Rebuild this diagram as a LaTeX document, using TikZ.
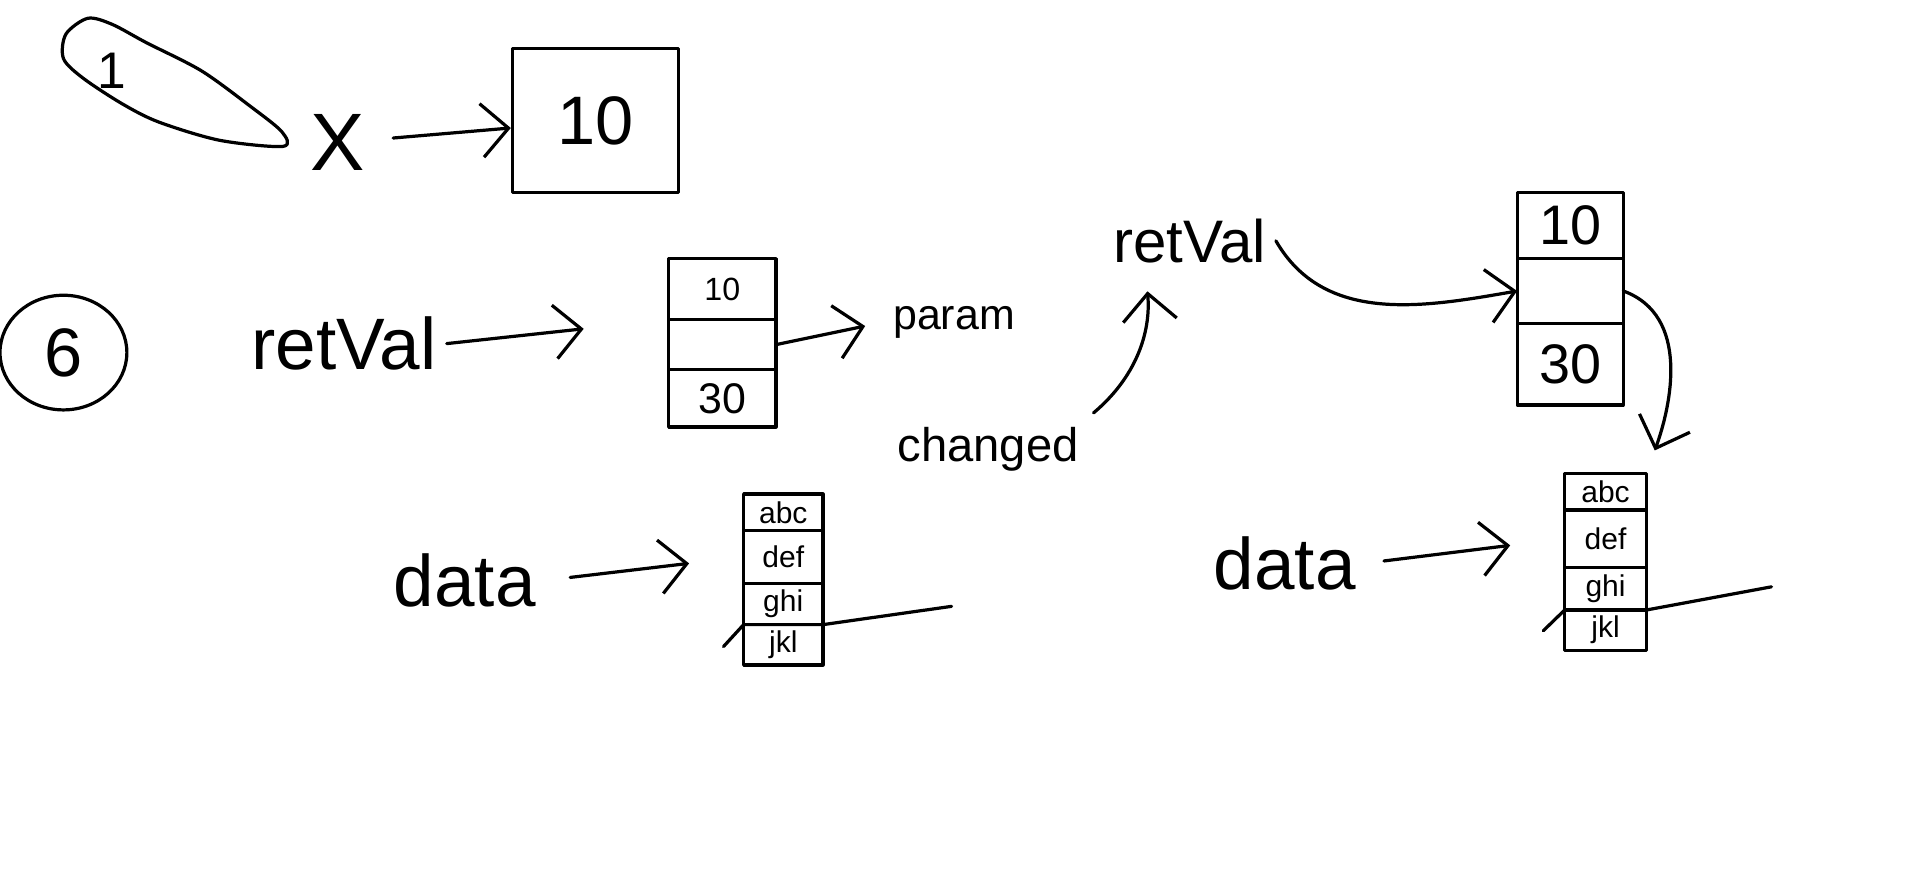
\documentclass[tikz,border=0pt]{standalone}
\usepackage{fontspec}
\setmainfont{Liberation Sans}
\usepackage{tikz}
\usetikzlibrary{shapes,positioning,arrows.meta}
\tikzset{cell/.style={draw,inner sep=0pt,outer sep=0pt,anchor=north}}
\tikzset{word/.style={anchor=base,inner sep=2pt}}
\tikzset{small/.style={font=\fontsize{7}{8}\selectfont}}

\begin{document}
\begin{tikzpicture}[x=0.1mm,y=0.1mm,line width=0.75pt,line cap=round,line join=round,>={Straight Barb[length=2.2mm,width=4.4mm]}]
    \useasboundingbox (0,0) rectangle (1568,-725);

    \draw plot[smooth cycle] coordinates {(72,-15) (54,-28) (52,-48) (68,-64) (100,-85) (130,-100) (180,-115) (232,-120) (231,-108) (205,-87) (165,-58) (120,-35) (92,-20)};
    \node[font=\fontsize{12}{14}\selectfont] (one) at (92,-58) {1};
    \node[font=\fontsize{19}{22}\selectfont] (x) at (277,-117) {X};
    \node[draw,minimum width=13.6mm,minimum height=11.8mm,font=\fontsize{16}{18}\selectfont] (ten) at (488,-99) {10};

    \node[ellipse,draw,minimum width=10.4mm,minimum height=9.4mm,font=\fontsize{16}{18}\selectfont] (six) at (52,-289) {6};
    \node[word,font=\fontsize{17}{20}\selectfont] (rv1) at (282,-303) {retVal};
    \node[cell,minimum width=8.8mm,minimum height=5mm,font=\fontsize{7.5}{9}\selectfont] (b1a) at (592,-212) {10};
    \node[cell,minimum width=8.8mm,minimum height=4.1mm,below=0pt of b1a] (b1b) {};
    \node[cell,minimum width=8.8mm,minimum height=4.7mm,below=0pt of b1b,font=\fontsize{10}{12}\selectfont] (b1c) {30};
    \node[word,font=\fontsize{10}{12}\selectfont] (param) at (782,-270) {param};
    \node[word,font=\fontsize{11}{13}\selectfont] (chg) at (810,-378) {changed};

    \node[word,font=\fontsize{14}{16}\selectfont] (rv2) at (975,-215) {retVal};
    \node[cell,minimum width=8.7mm,minimum height=5.4mm,font=\fontsize{13}{15}\selectfont] (b2a) at (1287,-158) {10};
    \node[cell,minimum width=8.7mm,minimum height=5.3mm,below=0pt of b2a] (b2b) {};
    \node[cell,minimum width=8.7mm,minimum height=6.7mm,below=0pt of b2b,font=\fontsize{13}{15}\selectfont] (b2c) {30};

    \node[word,font=\fontsize{17}{20}\selectfont] (dataA) at (381,-497) {data};
    \node[cell,small,minimum width=6.5mm,minimum height=3mm] (dA1) at (642,-405) {abc};
    \node[cell,small,minimum width=6.5mm,minimum height=4.3mm,below=0pt of dA1] (dA2) {def};
    \node[cell,small,minimum width=6.5mm,minimum height=3.4mm,below=0pt of dA2] (dA3) {ghi};
    \node[cell,small,minimum width=6.5mm,minimum height=3.3mm,below=0pt of dA3] (dA4) {jkl};

    \node[word,font=\fontsize{17}{20}\selectfont] (dataB) at (1053,-483) {data};
    \node[cell,small,minimum width=6.7mm,minimum height=3mm] (dB1) at (1316,-388) {abc};
    \node[cell,small,minimum width=6.7mm,minimum height=4.7mm,below=0pt of dB1] (dB2) {def};
    \node[cell,small,minimum width=6.7mm,minimum height=3.5mm,below=0pt of dB2] (dB3) {ghi};
    \node[cell,small,minimum width=6.7mm,minimum height=3.3mm,below=0pt of dB3] (dB4) {jkl};

    \draw [->,shorten <=1mm] (x) to [] (ten);
    \draw [->,shorten >=7mm] (rv1.east) to [] (b1b.north west);
    \draw [->,shorten >=1.5mm] (b1b.east) to [] (param.west);
    \draw [->,shorten <=0.5mm,shorten >=1.5mm] (chg.north east) to [out=40,in=-85] ([xshift=3.5mm]rv2.south west);
    \draw [->] (rv2.east) to [out=-60,in=190] (b2b.west);
    \draw [->,shorten >=2mm] (b2b.east) to [out=-20,in=70] (dB1.north east);
    \draw [->,shorten <=2mm,shorten >=4.5mm] (dataA.east) to [] (dA2.west);
    \draw [->,shorten <=1.5mm,shorten >=4.5mm] (dataB.east) to [] (dB2.west);

    \draw (593,-530) -- (dA3.south west) -- (dA3.south east) -- (780,-497);
    \draw (1265,-517) -- (dB3.south west) -- (dB3.south east) -- (1452,-481);
\end{tikzpicture}
\end{document}
